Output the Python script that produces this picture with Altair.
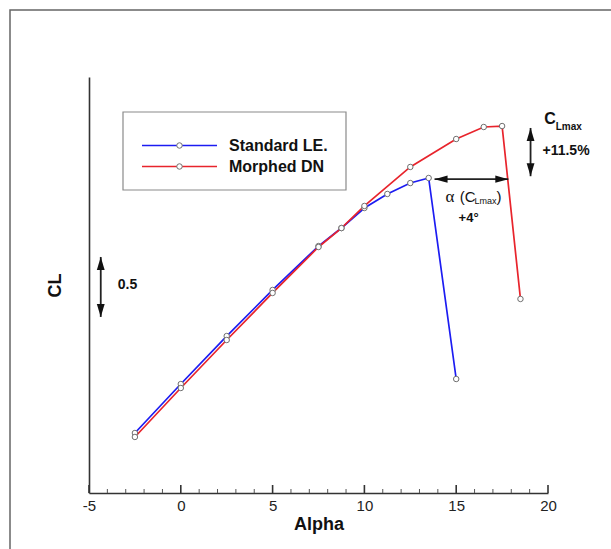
import altair as alt
import pandas as pd

# ---- data ----
series_names = ["Standard LE.", "Morphed DN"]
series_colors = ["#1c1cf2", "#e8242c"]

alpha_std = [-2.5, 0, 2.5, 5, 7.5, 8.75, 10, 11.25, 12.5, 13.5, 15]
cl_std = [-0.15, 0.258, 0.658, 1.042, 1.408, 1.558, 1.725, 1.842, 1.933, 1.975, 0.30]

alpha_dn = [-2.5, 0, 2.5, 5, 7.5, 8.75, 10, 12.5, 15, 16.5, 17.5, 18.5]
cl_dn = [-0.183, 0.225, 0.625, 1.017, 1.40, 1.558, 1.742, 2.067, 2.30, 2.40, 2.408, 0.967]

x_major_ticks = [-5, 0, 5, 10, 15, 20]
x_minor_ticks = [v for v in range(-5, 21) if v % 5 != 0]

X_DOMAIN = [-5, 20]
Y_DOMAIN = [-0.65, 2.8167]

W, H = 459, 416
FONT = "Liberation Sans"

# ---- tables ----
rows = []
for name, xs_, ys_ in [(series_names[0], alpha_std, cl_std), (series_names[1], alpha_dn, cl_dn)]:
    for i, (a, c) in enumerate(zip(xs_, ys_)):
        rows.append({"series": name, "alpha": a, "cl": c, "idx": i})
df = pd.DataFrame(rows)

xs = alt.Scale(domain=X_DOMAIN, nice=False, zero=False)
ys = alt.Scale(domain=Y_DOMAIN, nice=False, zero=False)
X = alt.X("alpha:Q", scale=xs,
          axis=alt.Axis(values=x_major_ticks, ticks=False, grid=False, title="Alpha",
                        labelExpr="toString(datum.value)",
                        labelFontSize=15, labelFont=FONT, labelColor="#222", labelPadding=5,
                        domainColor="#333", domainWidth=1.6,
                        titleFontSize=18, titleFont=FONT, titleFontWeight="bold",
                        titleColor="#111", titlePadding=2, labelFlush=False))
Y = alt.Y("cl:Q", scale=ys,
          axis=alt.Axis(ticks=False, labels=False, grid=False, title="CL",
                        domainColor="#333", domainWidth=1.6,
                        titleFontSize=18, titleFont=FONT, titleFontWeight="bold",
                        titleColor="#111", titlePadding=25))

one = pd.DataFrame({"k": [0]})

frame = alt.Chart(one).mark_rect(fillOpacity=0, stroke="#666", strokeWidth=1.5).encode(
    x=alt.value(-79), x2=alt.value(W + 80), y=alt.value(-67), y2=alt.value(H + 80))

lines = alt.Chart(df).mark_line(strokeWidth=1.7).encode(
    x=X, y=Y,
    color=alt.Color("series:N", scale=alt.Scale(domain=series_names, range=series_colors), legend=None),
    order="idx:Q")

points = alt.Chart(df).mark_point(shape="circle", filled=True, fill="white", stroke="#707070",
                                  strokeWidth=1, size=30, opacity=1).encode(
    x=alt.X("alpha:Q", scale=xs), y=alt.Y("cl:Q", scale=ys))

ticks_major = alt.Chart(pd.DataFrame({"alpha": x_major_ticks})).mark_rule(
    color="#333", strokeWidth=1.6).encode(
    x=alt.X("alpha:Q", scale=xs), y=alt.value(H), y2=alt.value(H - 8))
ticks_minor = alt.Chart(pd.DataFrame({"alpha": x_minor_ticks})).mark_rule(
    color="#555", strokeWidth=1).encode(
    x=alt.X("alpha:Q", scale=xs), y=alt.value(H), y2=alt.value(H - 4))

# ---- annotation arrows (data coordinates) ----
ARROW_C = "#222"
arrow_h = [13.82, 17.84]      # alpha(C_Lmax) arrow
arrow_h_cl = 1.965
arrow_v_alpha = 19.05           # C_Lmax arrow
arrow_v = [1.99, 2.392]
scale_alpha = -4.36             # 0.5 scale bar
scale_bar = [0.817, 1.317]

seg = pd.DataFrame({
    "x": [arrow_h[0], arrow_v_alpha, scale_alpha],
    "x2": [arrow_h[1], arrow_v_alpha, scale_alpha],
    "y": [arrow_h_cl, arrow_v[0], scale_bar[0]],
    "y2": [arrow_h_cl, arrow_v[1], scale_bar[1]],
})
arrow_lines = alt.Chart(seg).mark_rule(color=ARROW_C, strokeWidth=1.8).encode(
    x=alt.X("x:Q", scale=xs), x2="x2:Q", y=alt.Y("y:Q", scale=ys), y2="y2:Q")

heads = pd.DataFrame({
    "x": [arrow_h[0], arrow_h[1], arrow_v_alpha, arrow_v_alpha, scale_alpha, scale_alpha],
    "y": [arrow_h_cl, arrow_h_cl, arrow_v[1], arrow_v[0], scale_bar[1], scale_bar[0]],
    "dir": ["left", "right", "up", "down", "up", "down"],
})
shapes = {
    "left": "M0,0 L2,-0.55 L2,0.55 Z",
    "right": "M0,0 L-2,-0.55 L-2,0.55 Z",
    "up": "M0,0 L-0.6,2 L0.6,2 Z",
    "down": "M0,0 L-0.6,-2 L0.6,-2 Z",
}
arrow_heads = alt.Chart(heads).mark_point(filled=True, color="#111", opacity=1, size=170,
                                          strokeWidth=0).encode(
    x=alt.X("x:Q", scale=xs), y=alt.Y("y:Q", scale=ys),
    shape=alt.Shape("dir:N", scale=alt.Scale(domain=list(shapes.keys()),
                                             range=list(shapes.values())), legend=None))

# ---- annotation texts (data coordinates) ----
def txt(items, size, weight="bold", font=FONT):
    d = pd.DataFrame(items, columns=["x", "y", "t"])
    return alt.Chart(d).mark_text(align="left", baseline="middle", fontSize=size,
                                  fontWeight=weight, font=font, color="#111").encode(
        x=alt.X("x:Q", scale=xs), y=alt.Y("y:Q", scale=ys), text="t:N")

texts = [
    txt([(-3.43, 1.083, "0.5")], 14),
    txt([(19.8, 2.467, "C")], 16),
    txt([(20.42, 2.40, "Lmax")], 10),
    txt([(19.7, 2.204, "+11.5%")], 14),
    txt([(14.42, 1.818, "\u03b1")], 17, "normal", "Liberation Serif"),
    txt([(15.2, 1.818, "(C")], 15, "normal"),
    txt([(16.0, 1.785, "Lmax")], 9, "normal"),
    txt([(17.2, 1.818, ")")], 15, "normal"),
    txt([(15.13, 1.642, "+4\u00b0")], 13),
]

# ---- legend box (pixel positions) ----
legend_box = alt.Chart(one).mark_rect(fill="white", stroke="#8a8a8a", strokeWidth=1.2).encode(
    x=alt.value(34), x2=alt.value(257), y=alt.value(35), y2=alt.value(113))
legend_items = []
for i, (name, col) in enumerate(zip(series_names, series_colors)):
    yy = 68.5 + i * 21
    legend_items.append(alt.Chart(one).mark_rule(color=col, strokeWidth=1.7).encode(
        x=alt.value(53), x2=alt.value(128), y=alt.value(yy)))
    legend_items.append(alt.Chart(one).mark_point(shape="circle", filled=True, fill="white",
                                                  stroke="#707070", strokeWidth=1, size=30,
                                                  opacity=1).encode(
        x=alt.value(90.5), y=alt.value(yy)))
    legend_items.append(alt.Chart(pd.DataFrame({"t": [name]})).mark_text(
        align="left", baseline="middle", fontSize=16, fontWeight="bold", font=FONT,
        color="#111").encode(x=alt.value(140), y=alt.value(yy), text="t:N"))

chart = alt.layer(
    frame, ticks_minor, ticks_major, lines, points, arrow_lines, arrow_heads, *texts,
    legend_box, *legend_items
).properties(
    width=W, height=H,
    padding={"left": 89, "top": 77, "right": 63, "bottom": 56},
    autosize=alt.AutoSizeParams(type="none"),
    background="white",
).configure_view(stroke=None)

chart.save("out.html", embed_options={"renderer": "svg", "actions": False})
